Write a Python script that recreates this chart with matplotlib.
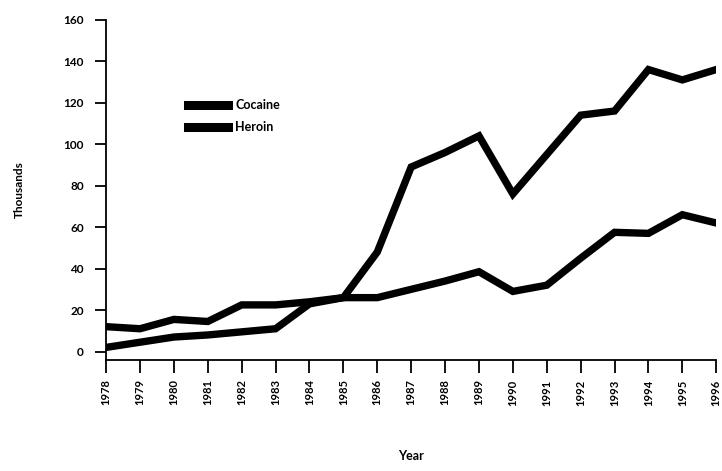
import matplotlib
matplotlib.use("Agg")
import matplotlib.pyplot as plt

# values (thousands)
years = list(range(1978, 1997))
cocaine = [2, 4.5, 7, 8, 9.5, 11, 23, 26, 48, 89, 96, 104, 76, 95, 114, 116, 136, 131, 136]
heroin = [12, 11, 15.5, 14.5, 22.5, 22.5, 24, 26, 26, 30, 34, 38.5, 29, 32, 45, 57.5, 57, 66, 62]
y_ticks = [0, 20, 40, 60, 80, 100, 120, 140, 160]

plt.rcParams['font.family'] = ['Lato', 'DejaVu Sans']

fig = plt.figure(figsize=(7.22, 4.71), dpi=100)
ax = fig.add_axes([0.147, 0.236, 0.845, 0.722])

ax.plot(years, cocaine, color='black', lw=5.3, solid_joinstyle='miter', label='Cocaine')
ax.plot(years, heroin, color='black', lw=5.3, solid_joinstyle='miter', label='Heroin')

ax.set_xlim(1978, 1996)
ax.set_ylim(-4, 160)
ax.set_xticks(years)
ax.set_xticklabels([str(y) for y in years], rotation=90, fontsize=8, fontweight='bold')
ax.set_yticks(y_ticks)
ax.set_yticklabels([str(v) for v in y_ticks], fontsize=8.5, fontweight='bold')

for side in ['top', 'right']:
    ax.spines[side].set_visible(False)
ax.spines['left'].set_linewidth(1.3)
ax.spines['bottom'].set_linewidth(1.3)
ax.tick_params(axis='x', direction='out', length=9, width=1.3, pad=5)
ax.tick_params(axis='y', direction='out', length=8, width=1.3, pad=8)

ax.set_xlabel('Year', fontsize=9, fontweight='bold', labelpad=32)
ax.set_ylabel('Thousands', fontsize=8.5, fontweight='bold', labelpad=28)

leg = ax.legend(loc='upper left', bbox_to_anchor=(0.115, 0.80), frameon=False,
                fontsize=9, handlelength=3.2, handletextpad=0.6, labelspacing=0.8)
for line in leg.get_lines():
    line.set_linewidth(6.5)
for t in leg.get_texts():
    t.set_fontweight('bold')

fig.savefig('out.png', dpi=100)
